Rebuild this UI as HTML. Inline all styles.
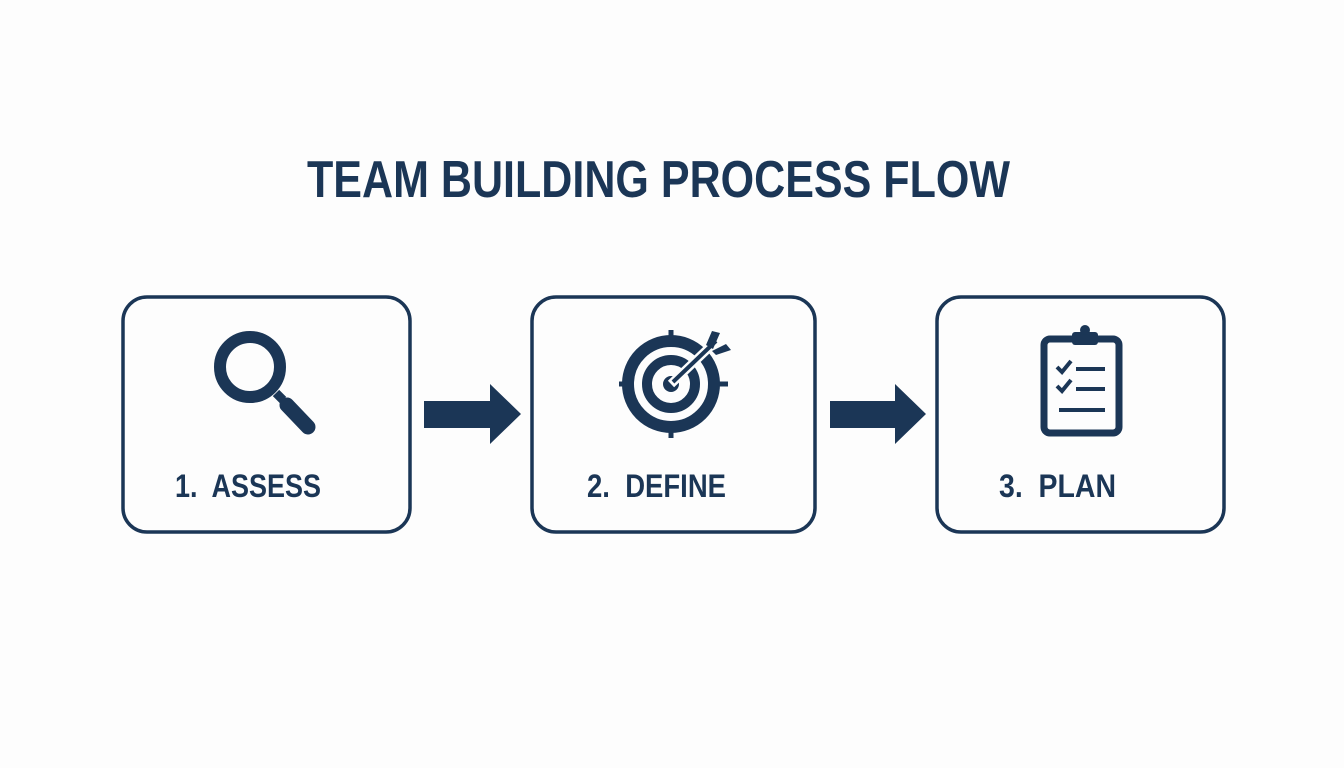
<!DOCTYPE html>
<html><head><meta charset="utf-8"><style>
html,body{margin:0;padding:0;background:#fdfdfd;}
svg{display:block}
text{font-family:"Liberation Sans",sans-serif;font-weight:bold;fill:#1b3656;white-space:pre}
</style></head><body>
<svg width="1344" height="768" viewBox="0 0 1344 768">
<rect width="1344" height="768" fill="#fdfdfd"/>
<text x="307" y="197" font-size="52" textLength="703" lengthAdjust="spacingAndGlyphs">TEAM BUILDING PROCESS FLOW</text>
<g fill="none" stroke="#1b3656" stroke-width="3.5">
<rect x="123" y="297" width="287" height="235" rx="24"/>
<rect x="532" y="297" width="283" height="235" rx="24"/>
<rect x="937" y="297" width="287" height="235" rx="24"/>
</g>
<g fill="#1b3656">
<polygon points="424,401 490,401 490,384 521,414 490,444 490,428 424,428"/>
<polygon points="830,401 895,401 895,384 926,414 895,444 895,428 830,428"/>
</g>
<text x="175" y="497" font-size="32" textLength="146" lengthAdjust="spacingAndGlyphs">1.  ASSESS</text>
<text x="587" y="497" font-size="32" textLength="139" lengthAdjust="spacingAndGlyphs">2.  DEFINE</text>
<text x="999" y="497" font-size="32" textLength="117" lengthAdjust="spacingAndGlyphs">3.  PLAN</text>
<!-- magnifier -->
<circle cx="250" cy="367" r="30" fill="none" stroke="#1b3656" stroke-width="12"/>
<line x1="276" y1="393" x2="283" y2="400" stroke="#1b3656" stroke-width="9"/>
<line x1="287" y1="405" x2="308" y2="427" stroke="#1b3656" stroke-width="15" stroke-linecap="round"/>
<!-- target -->
<g stroke="#1b3656" fill="none">
<circle cx="671" cy="384" r="43" stroke-width="12"/>
<circle cx="671" cy="384" r="24" stroke-width="10"/>
<circle cx="671" cy="384" r="8" fill="#1b3656" stroke="none"/>
<line x1="619" y1="384" x2="632" y2="384" stroke-width="5"/>
<line x1="710" y1="384" x2="728" y2="384" stroke-width="5"/>
<line x1="671" y1="330" x2="671" y2="345" stroke-width="5"/>
<line x1="671" y1="423" x2="671" y2="438" stroke-width="5"/>
<line x1="671" y1="384" x2="716" y2="341" stroke="#fdfdfd" stroke-width="9"/>
<line x1="673" y1="382" x2="716" y2="341" stroke-width="4"/>
</g>
<polygon points="706,345 712,331 720,333 713,349" fill="#1b3656"/>
<polygon points="712,351 726,344 731,350 716,355" fill="#1b3656"/>
<!-- clipboard -->
<rect x="1044" y="339" width="75" height="94" rx="6" fill="none" stroke="#1b3656" stroke-width="7"/>
<rect x="1072" y="332" width="26" height="13" rx="3" fill="#1b3656"/>
<circle cx="1085" cy="330" r="5" fill="#1b3656"/>
<g stroke="#1b3656" stroke-width="4" fill="none">
<polyline points="1057,367 1062,372 1071,361"/>
<polyline points="1057,386 1062,391 1071,380"/>
<line x1="1076" y1="369" x2="1105" y2="369"/>
<line x1="1076" y1="389" x2="1105" y2="389"/>
<line x1="1059" y1="410" x2="1105" y2="410"/>
</g>
</svg>
</body></html>
